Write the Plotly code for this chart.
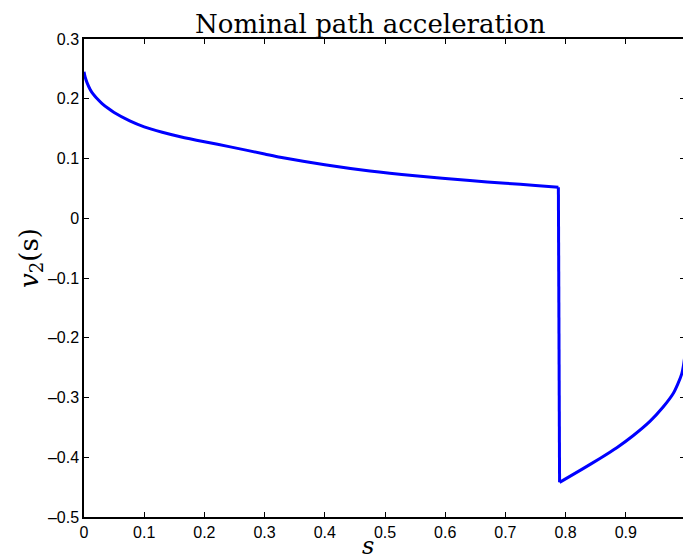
import plotly.graph_objects as go

# data
s_vals = [0, 0.002, 0.005, 0.01, 0.015, 0.02, 0.03, 0.04, 0.05, 0.076, 0.1, 0.13, 0.16,
          0.2, 0.243, 0.3, 0.326, 0.4, 0.475, 0.55, 0.641, 0.7, 0.75, 0.788,
          0.790, 0.829, 0.857, 0.885, 0.912, 0.940, 0.962, 0.979, 0.987, 0.993,
          0.996, 1.0]
v_vals = [0.245, 0.236, 0.227, 0.216, 0.208, 0.202, 0.192, 0.184, 0.177, 0.163, 0.153,
          0.144, 0.1365, 0.128, 0.1195, 0.1075, 0.102, 0.0895, 0.079, 0.071, 0.063,
          0.0585, 0.055, 0.052,
          -0.442, -0.419, -0.402, -0.384, -0.364, -0.340, -0.316, -0.293, -0.276,
          -0.260, -0.245, -0.215]

x_ticks = [0, 0.1, 0.2, 0.3, 0.4, 0.5, 0.6, 0.7, 0.8, 0.9]
y_ticks = [0.3, 0.2, 0.1, 0, -0.1, -0.2, -0.3, -0.4, -0.5]
title_text = "Nominal path acceleration"

W, H = 683, 555
L, R, T, B = 84, 0, 39, 38

# split at the jump so each smooth piece can be drawn as a spline
jump = max(range(1, len(v_vals)), key=lambda i: abs(v_vals[i] - v_vals[i - 1]))
pieces = [(s_vals[:jump], v_vals[:jump], "spline"),
          (s_vals[jump - 1:jump + 1], v_vals[jump - 1:jump + 1], "linear"),
          (s_vals[jump:], v_vals[jump:], "spline")]

fig = go.Figure()
for xs, ys, shp in pieces:
    fig.add_trace(go.Scatter(x=xs, y=ys, mode="lines",
                             line=dict(color="#0000FF", width=3, shape=shp,
                                       smoothing=0.6),
                             showlegend=False, hoverinfo="skip"))
fig.add_trace(go.Scatter(x=[None], y=[None], yaxis="y2", mode="lines",
                         showlegend=False, hoverinfo="skip"))

tickfont = dict(family="Liberation Sans, Arial, sans-serif", size=16, color="black")

fig.update_layout(
    width=W, height=H,
    margin=dict(l=L, r=R, t=T, b=B, pad=0),
    paper_bgcolor="white", plot_bgcolor="white",
    xaxis=dict(range=[0, (W - L) / 602.0], tickvals=x_ticks,
               ticktext=[("%g" % t) for t in x_ticks],
               ticks="inside", ticklen=5, tickwidth=1, tickcolor="black",
               showline=True, linecolor="black", linewidth=1.5, mirror="ticks",
               showgrid=False, zeroline=False, tickfont=tickfont),
    yaxis=dict(range=[-0.5, 0.3], tickvals=y_ticks,
               ticktext=[("%g" % t).replace("-", "\u2013") for t in y_ticks],
               ticks="inside", ticklen=5, tickwidth=1, tickcolor="black",
               showline=True, linecolor="black", linewidth=1.5, mirror=False,
               showgrid=False, zeroline=False, tickfont=tickfont),
    yaxis2=dict(range=[-0.5, 0.3], tickvals=y_ticks, overlaying="y", side="right",
                ticks="inside", ticklen=3, tickwidth=1, tickcolor="black",
                showticklabels=False, showline=False, showgrid=False, zeroline=False),
    annotations=[
        dict(text=title_text, xref="paper", yref="paper",
             x=(370 - L) / (W - L), y=1, xanchor="center", yanchor="bottom", yshift=-2,
             showarrow=False,
             font=dict(family="DejaVu Serif, serif", size=26, color="black")),
        dict(text="<i>s</i>", xref="paper", yref="paper",
             x=(368 - L) / (W - L), y=0, xanchor="center", yanchor="top", yshift=-13,
             showarrow=False,
             font=dict(family="DejaVu Serif, serif", size=24, color="black")),
        dict(text="<i>v</i><sub>2</sub>(s)", xref="paper", yref="paper",
             x=0, xshift=-L + 30, y=(517 - 258) / (517 - 39), xanchor="center",
             yanchor="middle", textangle=-90, showarrow=False,
             font=dict(family="DejaVu Serif, serif", size=26, color="black")),
    ],
)

fig.write_html("out.html")
